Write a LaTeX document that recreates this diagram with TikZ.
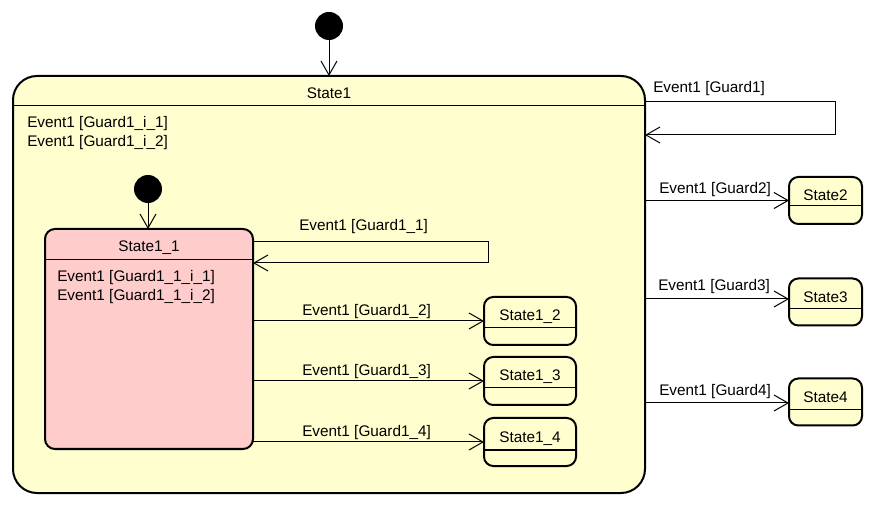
\documentclass[tikz,border=0pt]{standalone}
\usepackage{fontspec}
\setmainfont{Liberation Sans}
\usetikzlibrary{arrows.meta}
\definecolor{ylw}{HTML}{FEFECE}
\definecolor{pnk}{HTML}{FFCCCC}
\begin{document}
\begin{tikzpicture}[x=0.75pt,y=-0.75pt,
  st/.style={draw=black, line width=1.5pt, inner sep=0pt, outer sep=0pt},
  big/.style={st, fill=ylw, rounded corners=18pt, minimum width=474pt, minimum height=312.75pt},
  inner/.style={st, fill=pnk, rounded corners=7.5pt, minimum width=156pt, minimum height=165pt},
  sub/.style={st, fill=ylw, rounded corners=7pt, minimum width=69pt, minimum height=36pt},
  outst/.style={st, fill=ylw, rounded corners=7pt, minimum width=54.75pt, minimum height=35.25pt},
  txt/.style={inner sep=0pt, font=\fontsize{11.5}{14}\selectfont, anchor=base west},
  ttl/.style={inner sep=0pt, font=\fontsize{11.5}{14}\selectfont, anchor=base},
  hl/.style={line width=0.75pt},
  arr/.style={line width=0.75pt, -{Straight Barb[length=10.5pt,width=12pt,line width=0.75pt]}},
  dot/.style={circle, fill=black, minimum size=21pt, inner sep=0pt, outer sep=0pt}]
\useasboundingbox (0,0) rectangle (876,506);

% composite state
\node[big] (S1) at (329,284.5) {};
\draw[hl] (S1.west |- 0,106) -- (S1.east |- 0,106);
\node[ttl] (S1t) at (329,99) {State1};
\node[txt] (S1a) at (27,127.5) {Event1 [Guard1\_i\_1]};
\node[txt] (S1b) at (27,147) {Event1 [Guard1\_i\_2]};

% inner state
\node[inner] (S11) at (149,339) {};
\draw[hl] (S11.west |- 0,260) -- (S11.east |- 0,260);
\node[ttl] (S11t) at (149,252) {State1\_1};
\node[txt] (S11a) at (57,281.5) {Event1 [Guard1\_1\_i\_1]};
\node[txt] (S11b) at (57,300.5) {Event1 [Guard1\_1\_i\_2]};

% sub states
\node[sub] (S12) at (530,321) {};
\draw[hl] (S12.west |- 0,328) -- (S12.east |- 0,328);
\node[ttl] (S12t) at (530,321) {State1\_2};
\node[sub] (S13) at (530,381) {};
\draw[hl] (S13.west |- 0,388) -- (S13.east |- 0,388);
\node[ttl] (S13t) at (530,381) {State1\_3};
\node[sub] (S14) at (530,442) {};
\draw[hl] (S14.west |- 0,450) -- (S14.east |- 0,450);
\node[ttl] (S14t) at (530,442.5) {State1\_4};

% outer states
\node[outst] (S2) at (825.5,200.5) {};
\draw[hl] (S2.west |- 0,206) -- (S2.east |- 0,206);
\node[ttl] (S2t) at (825.5,200.5) {State2};
\node[outst] (S3) at (825.5,302) {};
\draw[hl] (S3.west |- 0,309) -- (S3.east |- 0,309);
\node[ttl] (S3t) at (825.5,302.5) {State3};
\node[outst] (S4) at (825.5,402) {};
\draw[hl] (S4.west |- 0,410) -- (S4.east |- 0,410);
\node[ttl] (S4t) at (825.5,402.5) {State4};

% initial states
\node[dot] (i1) at (329,26) {};
\node[dot] (i2) at (148,189) {};
\draw[arr] (i1) -- (S1.north);
\draw[arr] (i2) -- (i2 |- S11.north);

% self loops
\draw[arr] (S1.east |- 0,102) -| (835,135) -- (S1.east |- 0,135);
\node[txt] (L1) at (653,93) {Event1 [Guard1]};
\draw[arr] (S11.east |- 0,242) -| (488,263) -- (S11.east |- 0,263);
\node[txt] (L11) at (299,231) {Event1 [Guard1\_1]};

% transitions inside
\draw[arr] (S11.east |- S12.west) -- (S12.west);
\node[txt] (L12) at (302,315.5) {Event1 [Guard1\_2]};
\draw[arr] (S11.east |- S13.west) -- (S13.west);
\node[txt] (L13) at (302,376) {Event1 [Guard1\_3]};
\draw[arr] (S11.east |- S14.west) -- (S14.west);
\node[txt] (L14) at (302,436) {Event1 [Guard1\_4]};

% transitions outside
\draw[arr] (S1.east |- S2.west) -- (S2.west);
\node[txt] (L2) at (659,194) {Event1 [Guard2]};
\draw[arr] (S1.east |- 0,299) -- (S3.west |- 0,299);
\node[txt] (L3) at (658,290.5) {Event1 [Guard3]};
\draw[arr] (S1.east |- 0,403) -- (S4.west |- 0,403);
\node[txt] (L4) at (659,396) {Event1 [Guard4]};
\end{tikzpicture}
\end{document}
